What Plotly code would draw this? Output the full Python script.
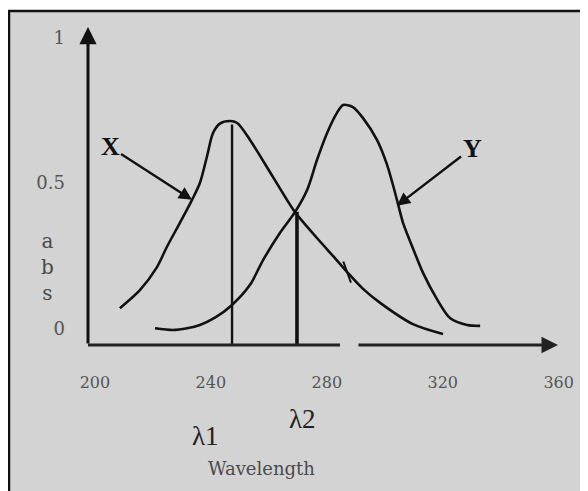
import plotly.graph_objects as go

# ---- data ----
x_wl = [208.6, 215.5, 221.4, 224.8, 229.3, 233.5, 236.2, 238.65, 240.7, 243.1, 246.6, 249.1,
        253.5, 261.4, 269.0, 276.6, 282.8, 287.0, 292.5, 298.4, 309.7, 320.1]
x_abs = [0.069, 0.131, 0.210, 0.279, 0.362, 0.441, 0.499, 0.590, 0.670, 0.703, 0.712, 0.705,
         0.647, 0.520, 0.399, 0.310, 0.241, 0.193, 0.135, 0.087, 0.014, -0.02]

y_wl = [220.7, 226.9, 231.8, 236.2, 241.4, 247.3, 253.5, 258.0, 263.8, 269.0, 273.2, 276.6,
        280.1, 283.5, 285.6, 289.0, 292.5, 297.3, 300.8, 304.2, 306.3, 309.7, 313.2, 318.0,
        322.5, 328.4, 332.9]
y_abs = [0.00, -0.006, 0.0, 0.011, 0.036, 0.08, 0.149, 0.234, 0.327, 0.399, 0.475, 0.578,
         0.671, 0.740, 0.767, 0.760, 0.722, 0.647, 0.561, 0.441, 0.362, 0.275, 0.190, 0.100,
         0.035, 0.011, 0.008]

lambda_wl = [247.3, 269.7]
lambda_abs = [0.70, 0.40]
lambda_labels = ["λ1", "λ2"]

x_ticks = [200, 240, 280, 320, 360]
x_ticktext = ["200", "240", "280", "320", "360"]
y_ticks = [0, 0.5, 1]
y_ticktext = ["0", "0.5", "1"]

series_names = ["X", "Y"]

# ---- layout geometry (page body has an 8px margin) ----
OFF = 8
W, H = 588 - OFF, 491 - OFF
L, R, T, B = 88 - OFF, 27, 27 - OFF, 146
PW, PH = W - L - R, H - T - B
XR = [197.6, 360.8]
YR = [-0.0577, 1.035]


def P(rx, ry):
    """reference-image pixel position -> paper coordinates"""
    fx, fy = rx - OFF, ry - OFF
    return (fx - L) / PW, (H - B - fy) / PH


INK = "#111111"
SERIF = "DejaVu Serif"

fig = go.Figure()

fig.add_trace(go.Scatter(x=x_wl, y=x_abs, mode="lines", line=dict(color=INK, width=2.6, shape="spline", smoothing=0.8),
                         showlegend=False, hoverinfo="skip"))
fig.add_trace(go.Scatter(x=y_wl, y=y_abs, mode="lines", line=dict(color=INK, width=2.6, shape="spline", smoothing=0.8),
                         showlegend=False, hoverinfo="skip"))
# small stroke mark on X curve
fig.add_trace(go.Scatter(x=[x_wl[17]], y=[x_abs[17]], mode="markers",
                         marker=dict(symbol="line-ns", size=16, angle=-20,
                                     line=dict(color=INK, width=2)),
                         showlegend=False, hoverinfo="skip"))

shapes = []
# lambda lines
for wl, ab, w in zip(lambda_wl, lambda_abs, [2.4, 3.6]):
    shapes.append(dict(type="line", xref="x", yref="y", x0=wl, x1=wl, y0=YR[0], y1=ab,
                       line=dict(color=INK, width=w)))
# x axis first segment (gap in the original)
gx, _ = P(340, 345)
shapes.append(dict(type="line", xref="paper", yref="paper", x0=0, x1=gx, y0=0, y1=0,
                   line=dict(color="#222", width=3)))
# outer frame: white strip on top + black border on top/left
x0p, y0p = P(OFF, OFF)
x1p, y1p = P(588, 491)
fx, fy = P(OFF + 1, 11)
shapes.append(dict(type="rect", xref="paper", yref="paper", x0=x0p, x1=x1p, y0=fy, y1=y0p,
                   fillcolor="white", line=dict(width=0), layer="below"))
shapes.append(dict(type="line", xref="paper", yref="paper", x0=x0p, x1=x1p, y0=fy, y1=fy,
                   line=dict(color="#111", width=2.5)))
shapes.append(dict(type="line", xref="paper", yref="paper", x0=fx, x1=fx, y0=y1p, y1=fy,
                   line=dict(color="#111", width=2.5)))

ann = []
# y axis arrow
ann.append(dict(xref="paper", yref="paper", x=0, y=1, ax=0, ay=PH, axref="pixel", ayref="pixel",
                text="", showarrow=True, arrowhead=2, arrowwidth=3, arrowsize=1.15, arrowcolor=INK))
# x axis arrow (second segment)
hx, _ = P(558, 345)
ann.append(dict(xref="paper", yref="paper", x=hx, y=0, ax=-(558 - 357), ay=0,
                text="", showarrow=True, arrowhead=2, arrowwidth=3, arrowsize=1.1, arrowcolor="#222"))
# series labels with arrows
ann.append(dict(xref="x", yref="y", x=x_wl[5], y=x_abs[5], axref="x", ayref="y", ax=205.2, ay=0.623,
                text="<b>" + series_names[0] + "</b>", font=dict(family="Liberation Serif", size=26, color=INK),
                showarrow=True, arrowhead=2, arrowwidth=2.4, arrowsize=1.1, arrowcolor=INK, standoff=0))
ann.append(dict(xref="x", yref="y", x=y_wl[19], y=y_abs[19] - 0.02, axref="x", ayref="y", ax=330.1, ay=0.619,
                text="<b>" + series_names[1] + "</b>", font=dict(family="Liberation Serif", size=26, color=INK),
                showarrow=True, arrowhead=2, arrowwidth=2.4, arrowsize=1.1, arrowcolor=INK, standoff=0))
# lambda labels
for (px, py), lab in zip([(205, 436), (302, 419)], lambda_labels):
    ax_, ay_ = P(px, py)
    ann.append(dict(xref="paper", yref="paper", x=ax_, y=ay_, xanchor="center", yanchor="middle",
                    text=lab, showarrow=False,
                    font=dict(family="Liberation Serif", size=27, color="#222")))
# axis titles
wx, wy = P(261, 468)
ann.append(dict(xref="paper", yref="paper", x=wx, y=wy, xanchor="center", yanchor="middle",
                text="Wavelength", showarrow=False,
                font=dict(family=SERIF, size=18, color="#4a4a4a")))
ax_, ay_ = P(47, 267)
ann.append(dict(xref="paper", yref="paper", x=ax_, y=ay_, xanchor="center", yanchor="middle",
                text="a<br>b<br>s", showarrow=False,
                font=dict(family=SERIF, size=20, color="#4a4a4a")))

fig.update_layout(
    width=W, height=H,
    margin=dict(l=L, r=R, t=T, b=B, pad=0),
    paper_bgcolor="#d3d3d3", plot_bgcolor="rgba(0,0,0,0)",
    shapes=shapes, annotations=ann, showlegend=False,
    xaxis=dict(range=XR, tickvals=x_ticks, ticktext=x_ticktext, showgrid=False, zeroline=False,
               showline=False, ticks="", ticklabelstandoff=26,
               tickfont=dict(family=SERIF, size=16, color="#555")),
    yaxis=dict(range=YR, tickvals=y_ticks, ticktext=y_ticktext, showgrid=False, zeroline=False,
               showline=False, ticks="", ticklabelstandoff=22,
               tickfont=dict(family=SERIF, size=18, color="#555")),
)

fig.write_html("out.html")
